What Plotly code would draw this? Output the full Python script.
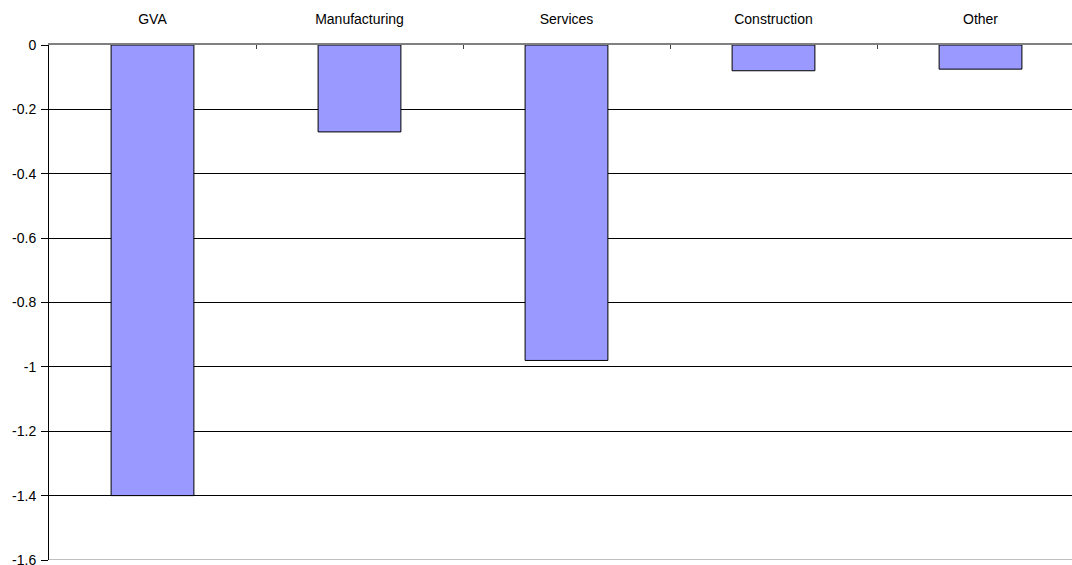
import plotly.graph_objects as go

categories = ["GVA", "Manufacturing", "Services", "Construction", "Other"]
values = [-1.4, -0.27, -0.98, -0.08, -0.075]
y_ticks = [0, -0.2, -0.4, -0.6, -0.8, -1, -1.2, -1.4, -1.6]

fig = go.Figure(
    go.Bar(
        x=categories,
        y=values,
        width=0.4,
        marker=dict(color="#9999FF", line=dict(color="#000000", width=1)),
    )
)

fig.update_layout(
    width=1072,
    height=565,
    margin=dict(l=49, r=0, t=45, b=5, autoexpand=False),
    paper_bgcolor="white",
    plot_bgcolor="white",
    font=dict(family="Liberation Sans, Arial, sans-serif", size=14, color="black"),
    showlegend=False,
    bargap=0.6,
)

# bottom border of the plot area
fig.add_shape(
    type="line", xref="paper", yref="y",
    x0=0, x1=1, y0=-1.6, y1=-1.6,
    line=dict(color="#808080", width=1),
)

fig.update_xaxes(
    side="top",
    range=[-0.5, 4.442],
    automargin=False,
    showgrid=False,
    showline=True,
    linecolor="#808080",
    linewidth=2,
    ticks="inside",
    tickson="boundaries",
    ticklen=4,
    tickcolor="#404040",
    ticklabelstandoff=13,
    tickfont=dict(size=14, color="black"),
    fixedrange=True,
)

fig.update_yaxes(
    range=[-1.6, 0],
    automargin=False,
    tickvals=y_ticks,
    ticktext=[f"{v:g}" for v in y_ticks],
    showgrid=True,
    gridcolor="#000000",
    gridwidth=1,
    zeroline=False,
    showline=True,
    linecolor="#000000",
    linewidth=1,
    ticks="outside",
    ticklen=7,
    tickcolor="#000000",
    ticklabelstandoff=2,
    ticklabeloverflow="allow",
    tickfont=dict(size=14, color="black"),
    fixedrange=True,
)

fig.write_html("out.html")
